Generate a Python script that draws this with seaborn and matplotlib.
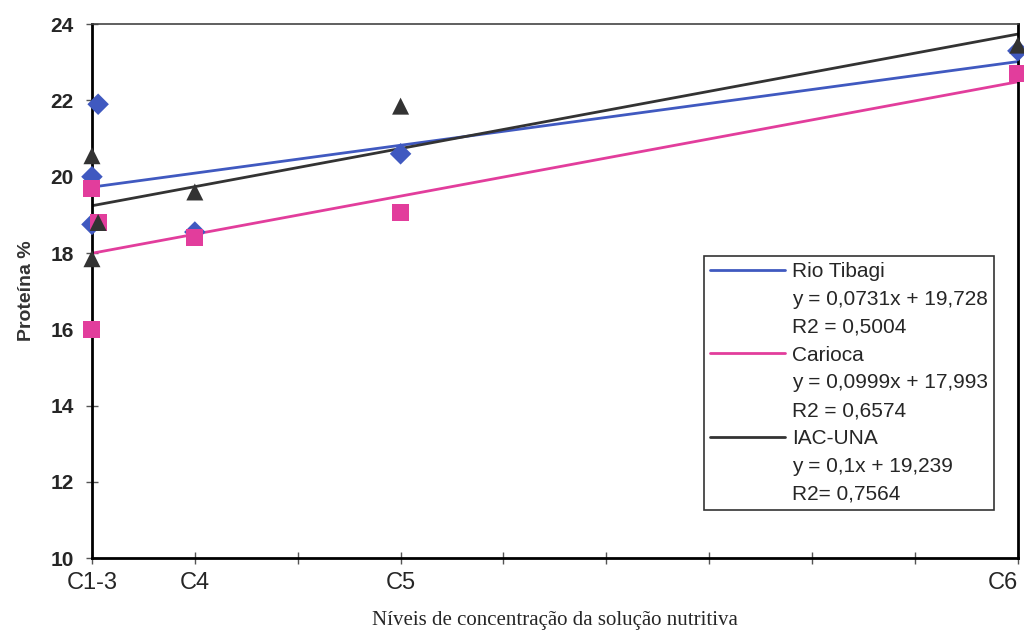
import numpy as np
import pandas as pd
import matplotlib
matplotlib.use("Agg")
import matplotlib.pyplot as plt
from matplotlib.lines import Line2D
import seaborn as sns

# Data (x in concentration units: C1-3=0, C4=5, C5=15, C6=45)
x_rio = [0, 0, 0.3, 5, 15, 45]
y_rio = [18.75, 20.0, 21.9, 18.55, 20.6, 23.3]

x_car = [0, 0, 0.3, 5, 15, 45]
y_car = [19.7, 16.0, 18.8, 18.4, 19.05, 22.7]

x_iac = [0, 0, 0.3, 5, 15, 45]
y_iac = [20.55, 17.85, 18.8, 19.6, 21.85, 23.45]

# trend lines as printed in the legend
slopes = [0.0731, 0.0999, 0.1]
intercepts = [19.728, 17.993, 19.239]
eq_labels = ["y = 0,0731x + 19,728", "y = 0,0999x + 17,993", "y = 0,1x + 19,239"]
r2_labels = ["R2 = 0,5004", "R2 = 0,6574", "R2= 0,7564"]
names = ["Rio Tibagi", "Carioca", "IAC-UNA"]

xtick_pos = [0, 5, 10, 15, 20, 25, 30, 35, 40, 45]
xtick_lab = ["C1-3", "C4", "", "C5", "", "", "", "", "", "C6"]

colors = ["#4059c0", "#e23d9c", "#333333"]
markers = ["D", "s", "^"]
sizes = [120, 150, 150]

sns.set_style("white")
plt.rcParams["font.family"] = ["Liberation Sans", "DejaVu Sans"]

fig = plt.figure(figsize=(10.24, 6.35), dpi=100)
ax = fig.add_axes([0.0898, 0.121, 0.9042, 0.841])

df = pd.concat([
    pd.DataFrame({"x": x_rio, "y": y_rio, "serie": names[0]}),
    pd.DataFrame({"x": x_car, "y": y_car, "serie": names[1]}),
    pd.DataFrame({"x": x_iac, "y": y_iac, "serie": names[2]}),
])

xl = np.array([0, 45])
for i in range(3):
    ax.plot(xl, slopes[i] * xl + intercepts[i], color=colors[i], lw=2, zorder=2)

for i, n in enumerate(names):
    sub = df[df["serie"] == n]
    sns.scatterplot(data=sub, x="x", y="y", marker=markers[i], color=colors[i],
                    s=sizes[i], edgecolor="none",
                    ax=ax, zorder=3, clip_on=False, legend=False)

ax.set_xlim(0, 45)
ax.set_ylim(10, 24)
ax.set_xticks(xtick_pos)
ax.set_xticklabels(xtick_lab, fontsize=17)
ax.get_xticklabels()[-1].set_horizontalalignment("right")
ax.get_xticklabels()[-1].set_x(45.1)
ax.set_yticks(range(10, 25, 2))
ax.set_yticklabels([str(v) for v in range(10, 25, 2)], fontsize=15, fontweight="bold")
ax.tick_params(axis="both", direction="inout", length=8, width=1, color="#555555",
               bottom=True, left=True)
ax.tick_params(axis="x", pad=6)
ax.tick_params(axis="y", pad=9)

for s in ["left", "bottom", "right"]:
    ax.spines[s].set_color("black")
    ax.spines[s].set_linewidth(2)
ax.spines["top"].set_color("#444444")
ax.spines["top"].set_linewidth(1.2)

ax.set_xlabel("Níveis de concentração da solução nutritiva", fontsize=15,
              family=["Liberation Serif", "DejaVu Serif"], labelpad=12)
ax.set_ylabel("Proteína %", fontsize=14, fontweight="bold", color="#333333", labelpad=11)

handles, labels = [], []
blank = Line2D([], [], color="none")
for i in range(3):
    handles += [Line2D([], [], color=colors[i], lw=2), blank, blank]
    labels += [names[i], eq_labels[i], r2_labels[i]]

leg = ax.legend(handles, labels, loc="upper left", bbox_to_anchor=(0.65, 0.585),
                frameon=True, fancybox=False, edgecolor="black",
                handlelength=3.6, handletextpad=0.3, labelspacing=0.42,
                borderpad=0.3, prop={"size": 15})
leg.get_frame().set_linewidth(1.2)

fig.savefig("out.png", dpi=100)
